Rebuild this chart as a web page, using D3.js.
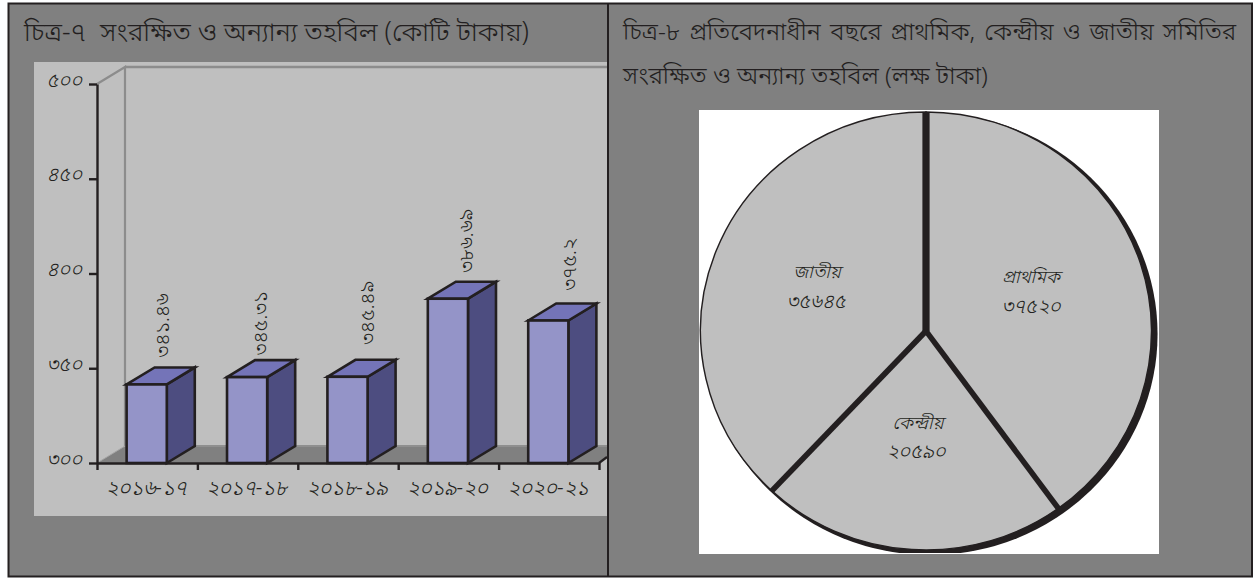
<!DOCTYPE html>
<html lang="bn"><head><meta charset="utf-8">
<style>html,body{margin:0;padding:0;background:#fdfeff}svg{display:block}text{font-family:"Noto Sans","Noto Sans Bengali","Lohit Bengali","DejaVu Sans",sans-serif;fill:#231f20;white-space:pre}</style>
<script src="https://cdn.jsdelivr.net/npm/d3@7/dist/d3.min.js"></script></head><body>
<script>
const barTitle = "চিত্র-৭  সংরক্ষিত ও অন্যান্য তহবিল (কোটি টাকায়)";
const pieTitleLines = ["চিত্র-৮ প্রতিবেদনাধীন বছরে প্রাথমিক, কেন্দ্রীয় ও জাতীয় সমিতির", "সংরক্ষিত ও অন্যান্য তহবিল (লক্ষ টাকা)"];
const years = ["২০১৬-১৭","২০১৭-১৮","২০১৮-১৯","২০১৯-২০","২০২০-২১"];
const reserves = [341.46, 345.31, 345.49, 386.69, 375.2];
const reserveLabels = ["৩৪১.৪৬","৩৪৫.৩১","৩৪৫.৪৯","৩৮৬.৬৯","৩৭৫.২"];
const yTicks = [300,350,400,450,500];
const yTickLabels = ["৩০০","৩৫০","৪০০","৪৫০","৫০০"];
const tiers = ["প্রাথমিক","কেন্দ্রীয়","জাতীয়"];
const tierValues = [37520,20590,35645];
const tierLabels = ["৩৭৫২০","২০৫৯০","৩৫৬৪৫"];

const svg = d3.select("body").append("svg").attr("width",1255).attr("height",578);
const ink = "#231f20";
svg.append("rect").attr("x",8.5).attr("y",3.5).attr("width",1243.5).attr("height",573).attr("fill","#808080").attr("stroke",ink).attr("stroke-width",2);
svg.append("text").attr("x",24).attr("y",41).attr("font-size",26.6).attr("font-weight",300).text(barTitle);
pieTitleLines.forEach((t,i)=>svg.append("text").attr("x",623).attr("y",40+i*44).attr("font-size",24.5).attr("font-weight",300).attr("word-spacing",i?0:2.7).text(t));

// Bar chart
svg.append("rect").attr("x",34).attr("y",62).attr("width",573).attr("height",454).attr("fill","#bfbfbf");
const y = d3.scaleLinear().domain([300,500]).range([463,84]);
const x = d3.scaleBand().domain(years).range([97,599]).paddingInner(0.6).paddingOuter(0.3);
const dx=28, dy=-17;
svg.append("defs").append("clipPath").attr("id","pc").append("rect").attr("x",34).attr("y",62).attr("width",573).attr("height",454);
const g = svg.append("g").attr("clip-path","url(#pc)");
const x0=97,x1=599;
g.append("path").attr("d",`M${x0},${y(300)}L${x0+dx},${y(300)+dy}L${x1+dx},${y(300)+dy}L${x1},${y(300)}Z`).attr("fill","#808080");
g.append("path").attr("d",`M${x0+dx},${y(300)+dy}H${x1+dx}`).attr("stroke","#8f8f8f").attr("stroke-width",2).attr("fill","none");
g.append("path").attr("d",`M${x0},${y(500)}L${x0+dx},${y(500)+dy}V${y(300)+dy}`).attr("fill","none").attr("stroke","#8c8c8c").attr("stroke-width",2.2);
g.append("path").attr("d",`M${x0+dx},${y(500)+dy}H${x1+dx}`).attr("stroke","#8c8c8c").attr("stroke-width",2.5).attr("fill","none");
g.append("path").attr("d",`M${x0},${y(300)}L${x0+dx},${y(300)+dy}`).attr("stroke","#a6a6a6").attr("stroke-width",1);

const bars = g.selectAll("g.bar").data(years.map((c,i)=>({c,v:reserves[i]}))).join("g");
bars.each(function(d){
  const s=d3.select(this), l=x(d.c)-0.5, r=l+x.bandwidth(), t=y(d.v), b=y(300);
  const st=e=>e.attr("stroke",ink).attr("stroke-width",2.6).attr("stroke-linejoin","miter");
  s.append("path").attr("d",`M${r},${t}L${r+dx},${t+dy}V${b+dy}L${r},${b}Z`).attr("fill","#4d4d80").call(st);
  s.append("path").attr("d",`M${l},${t}L${l+dx},${t+dy}H${r+dx}L${r},${t}Z`).attr("fill","#7474b8").call(st);
  s.append("rect").attr("x",l).attr("y",t).attr("width",r-l).attr("height",b-t).attr("fill","#9494c8").call(st);
});
const yAxis = d3.axisLeft(y).tickValues(yTicks).tickFormat((d,i)=>yTickLabels[i]).tickSize(8).tickPadding(7).tickSizeOuter(0);
const ya = svg.append("g").attr("transform","translate(97,0)").call(yAxis);
ya.select(".domain").attr("stroke",ink).attr("stroke-width",2.4);
ya.selectAll("line").attr("stroke",ink).attr("stroke-width",2.4);
ya.selectAll("text").attr("font-size",20).attr("font-style","italic").attr("font-weight",300).attr("dy","0.1em").style("fill",ink);
const xAxis = d3.axisBottom(d3.scaleLinear().domain([0,5]).range([97,599])).ticks(5).tickFormat("").tickSize(7).tickSizeOuter(0);
const xa = svg.append("g").attr("transform",`translate(0,${y(300)})`).call(xAxis);
xa.select(".domain").attr("stroke",ink).attr("stroke-width",2.4);
xa.selectAll("line").attr("stroke",ink).attr("stroke-width",2.4);
svg.append("path").attr("d",`M${x1},${y(300)}l8,-6`).attr("stroke",ink).attr("stroke-width",2.2);
svg.append("line").attr("x1",608).attr("x2",608).attr("y1",3.5).attr("y2",576.5).attr("stroke",ink).attr("stroke-width",2);
svg.selectAll("text.xl").data(years).join("text").attr("class","xl").attr("x",d=>x(d)+x.bandwidth()/2-1).attr("y",495).attr("text-anchor","middle").attr("font-size",21).attr("font-style","italic").attr("font-weight",300).text(d=>d);
const labelShiftX=[22,19,26,25,27], labelShiftY=[-10,-5,-15,-9,-13];
svg.selectAll("text.vl").data(reserveLabels).join("text").attr("class","vl").attr("font-size",20).attr("font-weight",300)
 .attr("transform",(d,i)=>`translate(${x(years[i])+x.bandwidth()/2+labelShiftX[i]},${y(reserves[i])+dy+labelShiftY[i]}) rotate(-90)`).text(d=>d);

// Pie
svg.append("rect").attr("x",699).attr("y",110).attr("width",460).attr("height",444).attr("fill","#fff");
svg.append("clipPath").attr("id","wc").append("rect").attr("x",699).attr("y",110).attr("width",460).attr("height",443);
const pg = svg.append("g").attr("clip-path","url(#wc)");
const pie = d3.pie().sort(null)(tierValues);
const R=219;
const p = pg.append("g").attr("transform",`translate(926,331) scale(${225.5/219},1)`);
const arc = d3.arc().innerRadius(0).outerRadius(R);
p.append("circle").attr("cx",3.9).attr("cy",3).attr("r",221).attr("fill",ink);
p.selectAll("path").data(pie).join("path").attr("d",arc).attr("fill","#bfbfbf").attr("stroke",ink).attr("stroke-width",1.4);
pie.forEach(s=>{p.append("line").attr("x2",R*Math.sin(s.startAngle)).attr("y2",-R*Math.cos(s.startAngle)).attr("stroke",ink).attr("stroke-width",s.startAngle===0?7:5.5);});
const nameAt=[[1031,283],[918,429],[817,278]], valueAt=[[1031,313],[916,458],[816,308]];
nameAt.forEach((c,i)=>svg.append("text").attr("x",c[0]).attr("y",c[1]).attr("text-anchor","middle").attr("font-size",18).attr("font-style","italic").attr("font-weight",300).text(tiers[i]));
valueAt.forEach((c,i)=>svg.append("text").attr("x",c[0]).attr("y",c[1]).attr("text-anchor","middle").attr("font-size",20).attr("font-style","italic").attr("font-weight",300).text(tierLabels[i]));
</script></body></html>
